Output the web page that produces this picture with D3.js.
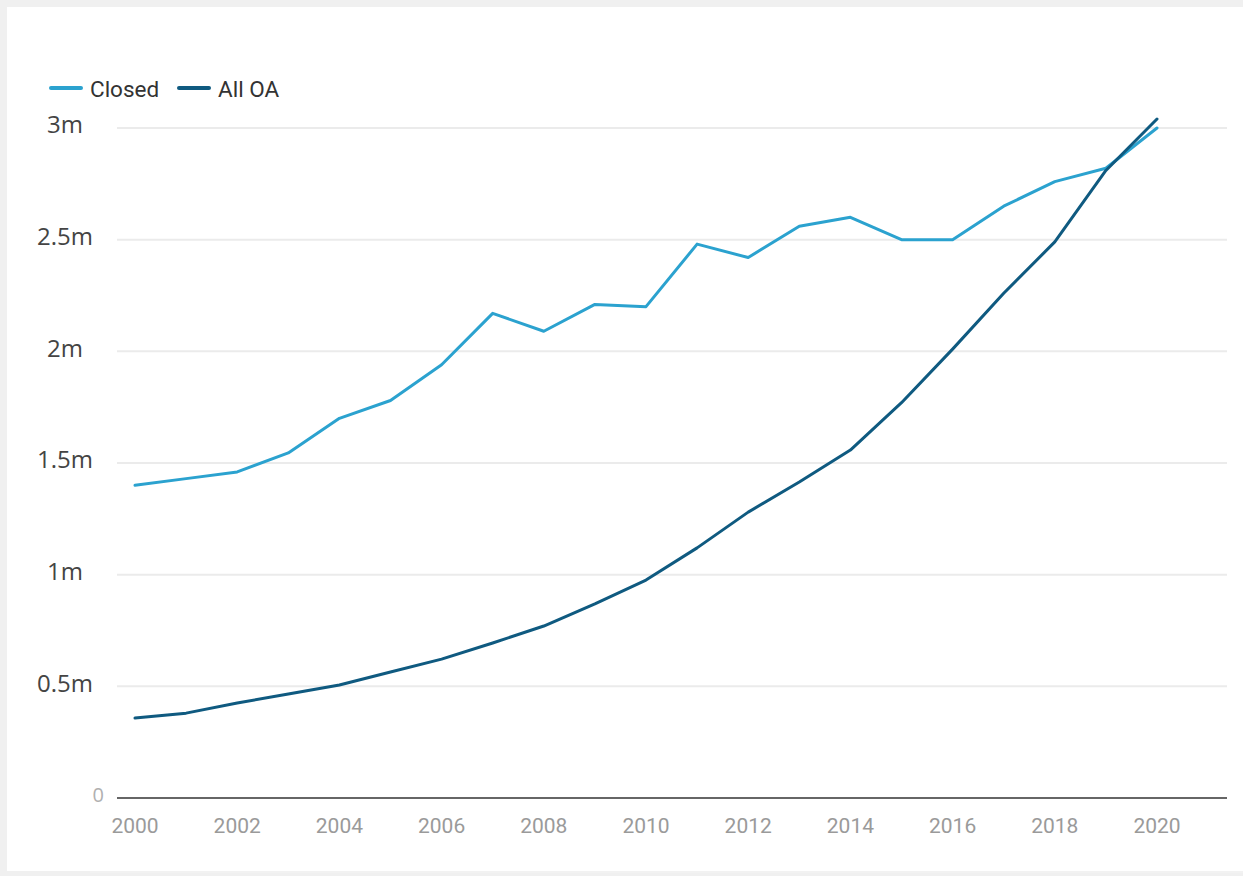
<!DOCTYPE html>
<meta charset="utf-8">
<style>
  html, body{
    margin:0;
    padding:0;
    background:#f0f0f0;
  }
  *{
    font-family: Roboto, "Open Sans", Arial, sans-serif;
  }
  .grid line{
    stroke:#ebebeb;
    stroke-width:2;
  }
  .ylab{
    font-family:"Open Sans", Arial, sans-serif;
    font-size:24px;
    fill:#444;
  }
  .xlab{
    font-size:21px;
    fill:#9a9a9a;
  }
  .legend text{
    font-size:22.5px;
    fill:#333;
  }
  path.series{
    fill:none;
    stroke-width:3;
    stroke-linejoin:round;
    stroke-linecap:round;
  }
</style>
<body>
<div id="container"></div>
<script src="https://d3js.org/d3.v7.min.js"></script>
<script>

var years = d3.range(2000, 2021);
var closedAccess = [1.40, 1.43, 1.46, 1.545, 1.70, 1.78, 1.94, 2.17, 2.09, 2.21, 2.20,
                    2.48, 2.42, 2.56, 2.60, 2.50, 2.50, 2.65, 2.76, 2.82, 3.00];
var allOA = [0.358, 0.38, 0.425, 0.466, 0.506, 0.564, 0.622, 0.694, 0.77, 0.869, 0.976,
             1.12, 1.28, 1.415, 1.558, 1.77, 2.01, 2.26, 2.49, 2.81, 3.04];
var yTicks = [0, 0.5, 1, 1.5, 2, 2.5, 3];
var yTickLabels = ['0', '0.5m', '1m', '1.5m', '2m', '2.5m', '3m'];
var xTicks = [2000, 2002, 2004, 2006, 2008, 2010, 2012, 2014, 2016, 2018, 2020];
var seriesNames = ['Closed', 'All OA'];
var seriesColors = ['#2ba2cf', '#0f5a80'];

var W = 1243, H = 876;
var svg = d3.select('#container').append('svg').attr('width', W).attr('height', H).style('display','block');

// white card
svg.append('rect').attr('x',7).attr('y',7).attr('width',W-7).attr('height',H-12).attr('fill','#fff');
svg.append('line').attr('x1',90).attr('x2',W).attr('y1',H-4).attr('y2',H-4).attr('stroke','#f2f2f2').attr('stroke-width',2);

var x = d3.scaleLinear().domain([2000, 2020]).range([135, 1157]);
var y = d3.scaleLinear().domain([0, 3]).range([798, 128]);
var plotLeft = 117, plotRight = 1227;

// gridlines
svg.append('g').attr('class','grid')
  .selectAll('line').data(yTicks.filter(function(d){ return d > 0; })).enter().append('line')
  .attr('x1', plotLeft).attr('x2', plotRight)
  .attr('y1', function(d){ return y(d); }).attr('y2', function(d){ return y(d); });

// y labels
svg.append('g').selectAll('text').data(yTicks).enter().append('text')
  .attr('class','ylab')
  .attr('x', function(d){ return d === 0 ? 104 : 65; })
  .attr('y', function(d){ return y(d) - 3; })
  .attr('text-anchor', function(d){ return d === 0 ? 'end' : 'middle'; })
  .attr('dy','0.35em')
  .style('fill', function(d){ return d === 0 ? '#b0b0b0' : null; })
  .style('font-size', function(d){ return d === 0 ? '20px' : null; })
  .text(function(d, i){ return yTickLabels[i]; });

// x axis baseline
svg.append('line').attr('x1', plotLeft).attr('x2', plotRight)
  .attr('y1', y(0)).attr('y2', y(0)).attr('stroke','#333').attr('stroke-width',1.5);

svg.append('g').selectAll('text').data(xTicks).enter().append('text')
  .attr('class','xlab')
  .attr('x', function(d){ return x(d); })
  .attr('y', 826)
  .attr('dy','0.35em')
  .attr('text-anchor','middle')
  .text(function(d){ return d; });

// lines
var line = d3.line()
  .x(function(d, i){ return x(years[i]); })
  .y(function(d){ return y(d); });

[closedAccess, allOA].forEach(function(vals, k){
  svg.append('path').attr('class','series')
    .attr('stroke', seriesColors[k])
    .attr('d', line(vals));
});

// legend
var legend = svg.append('g').attr('class','legend');
var lx = [51, 179];
seriesNames.forEach(function(name, k){
  legend.append('line').attr('x1', lx[k]).attr('x2', lx[k] + 30)
    .attr('y1', 88).attr('y2', 88)
    .attr('stroke', seriesColors[k]).attr('stroke-width', 4).attr('stroke-linecap','round');
  legend.append('text').attr('x', lx[k] + 39).attr('y', 89).attr('dy','0.35em').text(name);
});

</script>
</body>
</html>
